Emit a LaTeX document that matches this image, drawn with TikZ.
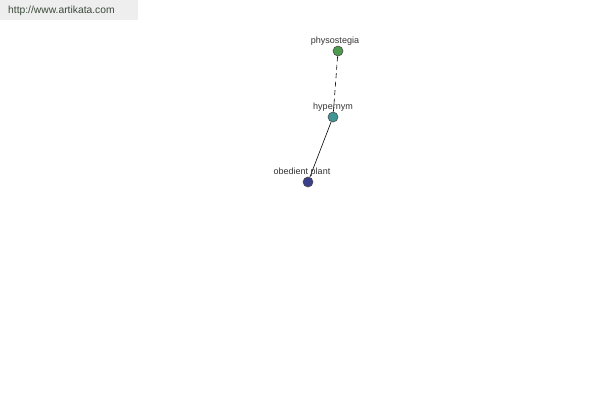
\documentclass[tikz,border=0pt]{standalone}
\usepackage{fontspec}
\setmainfont{Liberation Sans}
\definecolor{physc}{HTML}{4E9A4E}
\definecolor{hypc}{HTML}{3E9696}
\definecolor{obc}{HTML}{3A3F8C}
\definecolor{wmbg}{HTML}{EEEEEE}
\definecolor{wmtx}{HTML}{3A4A3A}
\tikzset{
  dot/.style={circle,draw=black!70,line width=0.6pt,minimum size=10pt,inner sep=0pt},
  lbl/.style={font=\fontsize{9}{10}\selectfont,text=black!80,inner sep=0pt}
}
\begin{document}
\begin{tikzpicture}[x=1pt,y=-1pt]
\useasboundingbox (0,0) rectangle (600,400);
\fill[white] (0,0) rectangle (600,400);
\fill[wmbg] (0,0) rectangle (138,20);
\node[font=\fontsize{10.3}{12}\selectfont,text=wmtx,anchor=west,inner sep=0pt] (wm) at (8,11) {http://www.artikata.com};
\node[dot,fill=physc] (phys) at (338,51) {};
\node[dot,fill=hypc] (hyp) at (333,117) {};
\node[dot,fill=obc] (ob) at (308,182) {};
\draw[line width=0.6pt,dash pattern=on 5pt off 3.5pt] (phys) -- (hyp);
\draw[line width=0.6pt] (hyp) -- (ob);
\node[lbl] (physl) at (335,41) {physostegia};
\node[lbl] (hypl) at (333,107) {hypernym};
\node[lbl] (obl) at (302,172) {obedient plant};
\end{tikzpicture}
\end{document}
